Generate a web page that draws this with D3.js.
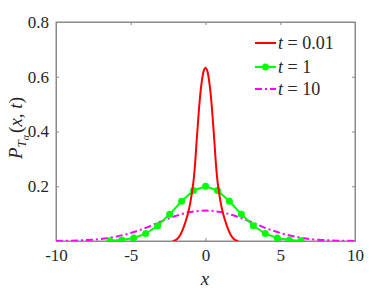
<!DOCTYPE html>
<html><head><meta charset="utf-8">
<script src="https://cdn.jsdelivr.net/npm/d3@7"></script>
<style>
html,body{margin:0;padding:0;background:#fff;}
svg{display:block;}
svg text{font-family:"Liberation Serif","Tinos","Times New Roman",Times,"DejaVu Serif","Noto Serif","FreeSerif",serif !important;fill:#262626;}
</style></head>
<body>
<svg id="chart" width="392" height="294"></svg>
<script>
// ---- data ----
const xTicks = [-10, -5, 0, 5, 10];
const xTickLabels = ["-10", "-5", "0", "5", "10"];
const yTicks = [0.2, 0.4, 0.6, 0.8];
const yTickLabels = ["0.2", "0.4", "0.6", "0.8"];
const seriesNames = ["0.01", "1", "10"];
const seriesColors = ["#ff0000", "#00ff00", "#ff00ff"];

const redX = [-2.2,-2.1,-2.0,-1.9,-1.8,-1.7,-1.6,-1.5,-1.4,-1.3,-1.2,-1.1,-1.0,-0.9,-0.8,-0.7,-0.6,-0.5,-0.4,-0.3,-0.2,-0.1,0,
              0.1,0.2,0.3,0.4,0.5,0.6,0.7,0.8,0.9,1.0,1.1,1.2,1.3,1.4,1.5,1.6,1.7,1.8,1.9,2.0,2.1,2.2];
const redY = [0,0.001,0.003,0.007,0.013,0.021,0.032,0.045,0.06,0.077,0.095,0.118,0.145,0.18,0.22,0.28,0.36,0.435,0.505,0.56,0.60,0.625,0.633,
              0.625,0.60,0.56,0.505,0.435,0.36,0.28,0.22,0.18,0.145,0.118,0.095,0.077,0.06,0.045,0.032,0.021,0.013,0.007,0.003,0.001,0];

const greenX = [-6.4,-5.6,-4.8,-4.0,-3.2,-2.4,-1.6,-0.8,0,0.8,1.6,2.4,3.2,4.0,4.8,5.6,6.4];
const greenY = [0.0012,0.004,0.0112,0.0271,0.0556,0.0974,0.1452,0.1846,0.2,0.1846,0.1452,0.0974,0.0556,0.0271,0.0112,0.004,0.0012];

const magX = [-10,-9,-8,-7,-6,-5,-4,-3,-2,-1,0,1,2,3,4,5,6,7,8,9,10];
const magY = [0.0004,0.0012,0.0032,0.0073,0.0159,0.0293,0.0478,0.0708,0.0913,0.1058,0.111,0.1058,0.0913,0.0708,0.0478,0.0293,0.0159,0.0073,0.0032,0.0012,0.0004];

// ---- layout ----
const svg = d3.select("#chart");
const L = 56, R = 355, T = 22, B = 241;
const x = d3.scaleLinear().domain([-10, 10]).range([L, R]);
const y = d3.scaleLinear().domain([0, 0.8]).range([B, T]);
const axisColor = "#8a8a8a";

// box
svg.append("rect").attr("x", L).attr("y", T).attr("width", R - L).attr("height", B - T)
  .attr("fill", "#fff").attr("stroke", axisColor).attr("stroke-width", 1);

// axes
const gx = svg.append("g").attr("transform", `translate(0,${B})`)
  .call(d3.axisBottom(x).tickValues(xTicks).tickSize(-3).tickPadding(8).tickFormat((d, i) => xTickLabels[i]));
const gxt = svg.append("g").attr("transform", `translate(0,${T})`)
  .call(d3.axisTop(x).tickValues(xTicks).tickSize(-3).tickFormat(""));
const gy = svg.append("g").attr("transform", `translate(${L},0)`)
  .call(d3.axisLeft(y).tickValues(yTicks).tickSize(-3).tickPadding(7).tickFormat((d, i) => yTickLabels[i]));
const gyr = svg.append("g").attr("transform", `translate(${R},0)`)
  .call(d3.axisRight(y).tickValues(yTicks).tickSize(-3).tickFormat(""));
[gx, gxt, gy, gyr].forEach(g => {
  g.attr("font-size", 17);
  g.select(".domain").attr("stroke", axisColor);
  g.selectAll(".tick line").attr("stroke", axisColor);
  g.selectAll(".tick text").attr("fill", "#262626");
});

// clip
svg.append("clipPath").attr("id", "clip").append("rect")
  .attr("x", L).attr("y", T - 5).attr("width", R - L).attr("height", B - T + 5);
const plot = svg.append("g").attr("clip-path", "url(#clip)");

// magenta
plot.append("path").datum(d3.zip(magX, magY))
  .attr("d", d3.line().x(d => x(d[0])).y(d => y(d[1])).curve(d3.curveCatmullRom))
  .attr("fill", "none").attr("stroke", seriesColors[2]).attr("stroke-width", 2)
  .attr("stroke-dasharray", "7,3,2,3");
// green
plot.append("path").datum(d3.zip(greenX, greenY))
  .attr("d", d3.line().x(d => x(d[0])).y(d => y(d[1])))
  .attr("fill", "none").attr("stroke", seriesColors[1]).attr("stroke-width", 2);
plot.selectAll("circle.g").data(d3.zip(greenX, greenY)).enter().append("circle")
  .attr("cx", d => x(d[0])).attr("cy", d => y(d[1])).attr("r", 3.5).attr("fill", seriesColors[1]);
// red
plot.append("path").datum(d3.zip(redX, redY))
  .attr("d", d3.line().x(d => x(d[0])).y(d => y(d[1])).curve(d3.curveCatmullRom))
  .attr("fill", "none").attr("stroke", seriesColors[0]).attr("stroke-width", 2);

// legend
const legY = [43, 67, 89];
seriesNames.forEach((n, i) => {
  const g = svg.append("g");
  const ly = legY[i];
  const ln = g.append("line").attr("x1", 255).attr("x2", 276).attr("y1", ly).attr("y2", ly)
    .attr("stroke", seriesColors[i]).attr("stroke-width", 2);
  if (i === 2) ln.attr("stroke-dasharray", "7,3,2,3");
  if (i === 1) g.append("circle").attr("cx", 265.5).attr("cy", ly).attr("r", 3.5).attr("fill", seriesColors[1]);
  const t = g.append("text").attr("x", 278).attr("y", ly + 6).attr("font-size", 18);
  t.append("tspan").attr("font-style", "italic").text("t");
  t.append("tspan").text(" = " + n);
});

// axis labels
svg.append("text").attr("x", 205).attr("y", 285).attr("text-anchor", "middle")
  .attr("font-size", 19).attr("font-style", "italic").text("x");
const yl = svg.append("text").attr("transform", "translate(22,128) rotate(-90)")
  .attr("text-anchor", "middle").attr("font-size", 19);
yl.append("tspan").attr("font-style", "italic").text("P");
yl.append("tspan").attr("font-style", "italic").attr("font-size", 13).attr("dy", 4).text("T");
yl.append("tspan").attr("font-style", "italic").attr("font-size", 10).attr("dy", 3).text("α");
yl.append("tspan").attr("dy", -7).attr("dx", 2).text("(");
yl.append("tspan").attr("font-style", "italic").text("x");
yl.append("tspan").text(", ");
yl.append("tspan").attr("font-style", "italic").text("t");
yl.append("tspan").text(")");
</script>
</body></html>
